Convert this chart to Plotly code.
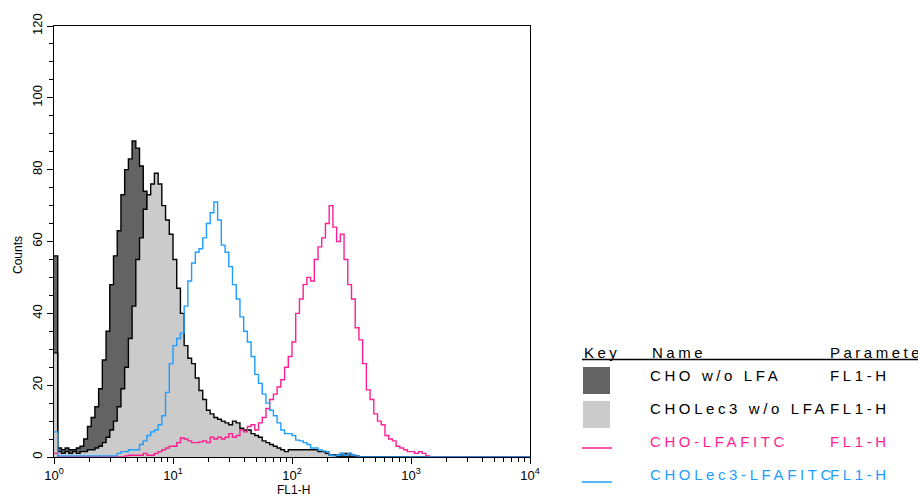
import numpy as np
import plotly.graph_objects as go

# ---------------- data (counts per channel, 32 channels per decade, 10^0..10^4) ----------------
CHANNELS_PER_DECADE = 32
N_CHANNELS = 128

cho_wo_lfa = [56, 2.5, 2, 2.5, 2, 2, 2.5, 3, 5, 8.5, 11, 14, 19, 27, 35, 48, 56, 63, 73, 80,
              83, 88, 86, 81, 74, 62, 52, 44, 36, 30, 24, 19, 15, 12, 10, 8, 7, 6, 5, 4.5,
              4, 3.5, 3, 3, 2.5, 2.5, 2, 2, 2, 2, 1.5, 1.5, 1.5, 1, 1, 1, 1, 1, 1, 1,
              1, 1, 1, 1, 1, 1, 1, 1, 1, 1, 1, 1, 1, 1, 0.5, 0.5, 0.5, 1, 1, 1,
              0.5, 0.3]
cholec3_wo_lfa = [29, 1.5, 1, 1.5, 1, 1.5, 1, 1.5, 1.5, 2, 2, 2.5, 3, 4, 5.5, 7.5, 10, 14, 19, 25,
                  33, 42, 55, 61, 69, 73, 76, 79, 76, 70, 66, 62, 55, 47, 40, 31, 27.5, 26, 22, 18.5,
                  16, 13, 12, 11, 10.5, 10, 9.5, 9, 10, 9.5, 8, 7.5, 7.5, 6.5, 6, 5.5, 4.5, 4, 3.5, 3,
                  2.5, 2, 1.5, 2, 2, 2, 2, 2, 2, 2, 2, 1.5, 1.5, 1, 0.5, 0.5]
cho_lfafitc = [1, 0, 0, 0, 0, 0, 0, 0, 0, 0, 0, 0, 0, 0, 0, 0, 0, 0, 0, 0.3,
               0.5, 0.5, 0.5, 0.5, 1, 0.5, 0.5, 1, 1.5, 2, 2.5, 3, 3, 4, 5.3, 5, 4.5, 4, 4, 4.2,
               4.5, 4, 5.5, 5, 5.5, 5, 5.5, 6.5, 5.5, 6, 7.5, 7, 8.5, 9, 7.5, 9.5, 11, 13.5, 16, 17.5,
               19.5, 21.5, 25, 28, 32, 40, 44, 48, 50, 49, 55, 58.5, 61, 65, 70, 64, 60, 62, 55, 48,
               44, 36, 32.6, 26, 18.7, 16, 12, 10, 9, 6, 5, 4.5, 3, 2.5, 2, 1.5, 1.5, 1, 1.5, 1,
               0.3]
cholec3_lfafitc = [7, 0.3, 0.3, 0.3, 0.3, 0.3, 0.3, 0.3, 0.3, 0.3, 0.3, 0.3, 0.3, 0.3, 0.3, 0.3, 0.3, 1, 1.5, 1.5,
                   2, 2, 2, 3.5, 4.5, 6, 7, 7.5, 9, 11.5, 18, 26, 31, 33, 34.5, 42, 49, 54, 57, 58,
                   61, 65, 68, 71, 66, 59, 57, 53, 48, 44, 39, 35, 32, 28, 23, 20.5, 17.5, 15, 13, 11.5,
                   9.5, 7.5, 6.5, 6.5, 6, 4.7, 4.5, 4, 3.5, 2.5, 2.5, 2, 1.7, 1.5, 0.5, 0.3, 0.5, 1, 0.5, 1,
                   0.5, 0.3]

series_names = ["CHO w/o LFA", "CHOLec3 w/o LFA", "CHO-LFAFITC", "CHOLec3-LFAFITC"]
parameter = "FL1-H"
x_tickvals = [1, 10, 100, 1000, 10000]
x_ticktext = ["10<sup>0</sup>", "10<sup>1</sup>", "10<sup>2</sup>", "10<sup>3</sup>", "10<sup>4</sup>"]
y_tickvals = [0, 20, 40, 60, 80, 100, 120]

# ---------------- styles ----------------
DARK = "#636363"
LIGHT = "#cbcbcb"
PINK = "#ff1f93"
BLUE = "#1e9dff"
FONT = "Liberation Sans, Arial, Helvetica, sans-serif"


def pad(vals):
    return list(vals) + [0] * (N_CHANNELS - len(vals))


edges = 10 ** (np.arange(N_CHANNELS + 1) / CHANNELS_PER_DECADE)


def step_xy(vals):
    v = pad(vals)
    return edges, v + [v[-1]]


fig = go.Figure()
for vals, fillc in [(cho_wo_lfa, DARK), (cholec3_wo_lfa, LIGHT)]:
    x, y = step_xy(vals)
    fig.add_trace(go.Scatter(x=x, y=y, mode="lines", line=dict(shape="hv", color="black", width=1.4),
                             fill="tozeroy", fillcolor=fillc, showlegend=False, hoverinfo="skip"))
for vals, col in [(cho_lfafitc, PINK), (cholec3_lfafitc, BLUE)]:
    x, y = step_xy(vals)
    fig.add_trace(go.Scatter(x=x, y=y, mode="lines", line=dict(shape="hv", color=col, width=1.4),
                             showlegend=False, hoverinfo="skip"))

L, R, T, B = 54, 530, 26, 457
W, H = 918, 498


def px(x):
    return (x - L) / (R - L)


def py(y):
    return (B - y) / (B - T)


minor_x = [k * 10 ** d for d in range(4) for k in range(2, 10)]

fig.update_layout(
    width=W, height=H,
    margin=dict(l=L, r=W - R, t=T, b=H - B, pad=0),
    paper_bgcolor="white", plot_bgcolor="white",
    font=dict(family=FONT, size=13, color="black"),
    xaxis=dict(type="log", range=[0, 4], tickvals=x_tickvals, ticktext=x_ticktext,
               ticks="outside", ticklen=6, tickwidth=1, tickcolor="black",
               showline=True, linecolor="black", linewidth=1.2, mirror=True,
               showgrid=False, zeroline=False, layer="below traces",
               tickfont=dict(size=13, family=FONT),
               minor=dict(tickvals=minor_x, ticks="outside", ticklen=4, tickwidth=1, tickcolor="black")),
    yaxis=dict(range=[0, 120], tickvals=y_tickvals, tickangle=-90,
               ticks="outside", ticklen=6, tickwidth=1, tickcolor="black",
               showline=True, linecolor="black", linewidth=1.2, mirror=True,
               showgrid=False, zeroline=False, layer="below traces",
               tickfont=dict(size=13, family=FONT),
               minor=dict(dtick=5, ticks="outside", ticklen=4, tickwidth=1, tickcolor="black")),
)

ann = []
ann.append(dict(text="Counts", x=px(18), y=py(255), textangle=-90, font=dict(size=12)))
ann.append(dict(text="FL1-H", x=px(293), y=py(490), font=dict(size=12)))


def sp(t, ls=3.0):
    return '<span style="letter-spacing:%.1fpx">%s</span>' % (ls, t)


# legend-like table
ann += [
    dict(text=sp("Key", 3.5), x=px(582), y=py(352), xanchor="left", font=dict(size=15)),
    dict(text=sp("Name", 3.5), x=px(650), y=py(352), xanchor="left", font=dict(size=15)),
    dict(text=sp("Parameter", 3.5), x=px(828), y=py(352), xanchor="left", font=dict(size=15)),
]
row_y = [375, 408, 441, 474]
row_col = ["black", "black", PINK, BLUE]
for name, yy, c in zip(series_names, row_y, row_col):
    ann.append(dict(text=sp(name, 3.6), x=px(648), y=py(yy), xanchor="left", font=dict(size=15, color=c)))
    ann.append(dict(text=sp(parameter, 3.6), x=px(828), y=py(yy), xanchor="left", font=dict(size=15, color=c)))
for a in ann:
    a.update(xref="paper", yref="paper", showarrow=False, yanchor=a.get("yanchor", "middle"),
             xanchor=a.get("xanchor", "center"))
fig.update_layout(annotations=ann)

shapes = [
    dict(type="line", x0=px(582), x1=px(918), y0=py(359.5), y1=py(359.5), line=dict(color="black", width=1.5)),
    dict(type="rect", x0=px(583), x1=px(610), y0=py(367), y1=py(394), fillcolor=DARK, line=dict(width=0)),
    dict(type="rect", x0=px(583), x1=px(610), y0=py(401), y1=py(428), fillcolor=LIGHT, line=dict(width=0)),
    dict(type="line", x0=px(582), x1=px(612), y0=py(448), y1=py(448), line=dict(color=PINK, width=1.5)),
    dict(type="line", x0=px(582), x1=px(612), y0=py(482), y1=py(482), line=dict(color=BLUE, width=1.5)),
]
for s in shapes:
    s.update(xref="paper", yref="paper")
fig.update_layout(shapes=shapes)

fig.write_html("out.html")
